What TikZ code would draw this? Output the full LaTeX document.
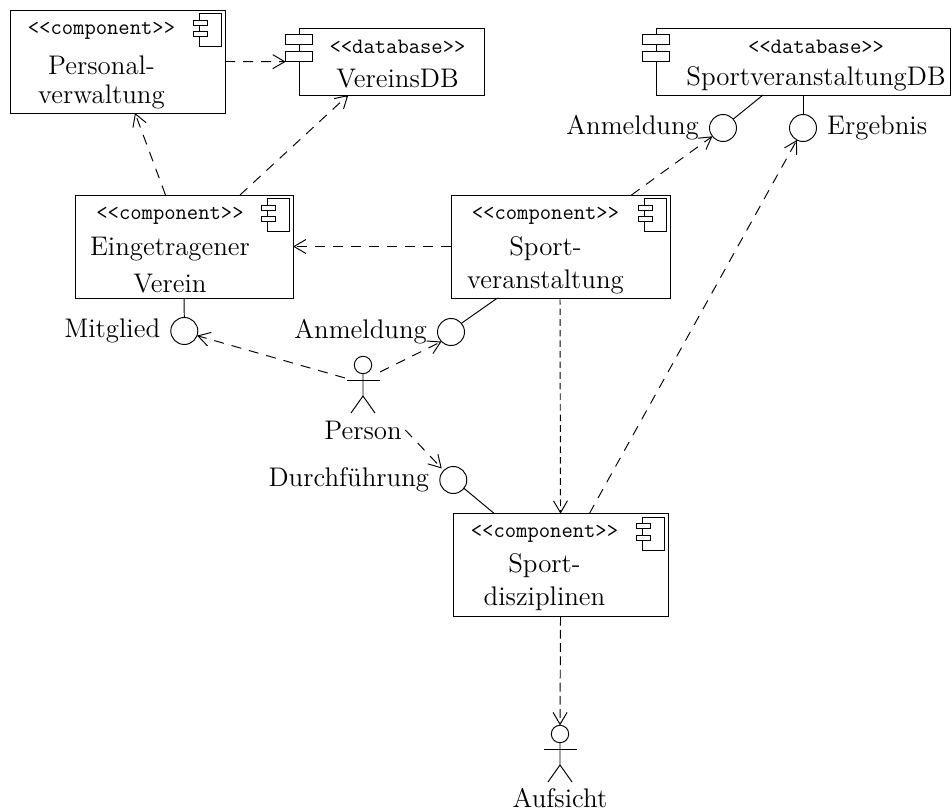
\documentclass[tikz,border=0pt]{standalone}
\usetikzlibrary{arrows.meta}

\newcommand{\stereo}[1]{{\fontsize{11}{12}\selectfont\ttfamily <{}<#1>{}>}}

\tikzset{
    every node/.style = {font=\fontsize{13.45}{15}\selectfont, outer sep=0pt},
    box/.style    = {draw, fill=white},
    compbox/.style = {box, minimum width=107.5pt, minimum height=51.5pt},
    dbbox/.style  = {box, minimum height=33.5pt},
    dbtab/.style  = {box, minimum width=13.3pt, minimum height=5pt, inner sep=0pt},
    boxtext/.style = {anchor=north, align=center, inner xsep=0pt, inner ysep=6pt},
    iface/.style  = {circle, draw, minimum size=13.5pt, inner sep=0pt},
    dep/.style    = {-{Straight Barb[length=6pt,width=7pt]}, dash pattern=on 5pt off 4pt},
    depv/.style   = {-{Straight Barb[length=6pt,width=7pt]}, dash pattern=on 3.3pt off 2pt},
    depw/.style   = {-{Straight Barb[length=6pt,width=7pt]}, dash pattern=on 4.4pt off 2.2pt},
    compicon/.pic = {
        \draw (-25.5,3.3) rectangle (-3.3,36.7);
        \draw[fill=white] (-32,10) rectangle (-18,15);
        \draw[fill=white] (-32,21.7) rectangle (-18,26.7);
    },
    actor/.pic = {
        \node (-head) [circle, draw, minimum size=8.7pt, inner sep=0pt] {};
        \draw (-head.south) -- (0,31) -- (-12,48);
        \draw (0,31) -- (12,48);
        \draw (-16.5,15.5) -- (16.5,15.5);
    },
}

\begin{document}
\begin{tikzpicture}[x=0.5pt, y=-0.5pt, line width=0.48pt, label distance=2pt]
\useasboundingbox (0,0) rectangle (952,812);
% components
\node (perso)  [compbox] at (117.5,61.5) {};
\node (verein) [compbox, minimum width=109pt] at (184,246.5) {};
\node (sport)  [compbox, minimum width=109.5pt] at (560.5,246.5) {};
\node (diszi)  [compbox] at (560.5,565.2) {};
\pic at (perso.north east)  {compicon};
\pic at (verein.north east) {compicon};
\pic at (sport.north east)  {compicon};
\pic at (diszi.north east)  {compicon};
\node (persotxt)  [boxtext] at ([xshift=-8pt] perso.north)  {\stereo{component}\\[5pt]Personal-\\[-0.5pt]verwaltung};
\node (vereintxt) [boxtext] at ([xshift=-7pt] verein.north) {\stereo{component}\\[3pt]Eingetragener\\[3.5pt]Verein};
\node (sporttxt)  [boxtext] at ([xshift=-7.5pt] sport.north)  {\stereo{component}\\[3pt]Sport-\\[1.5pt]veranstaltung};
\node (diszitxt)  [boxtext] at ([xshift=-8pt] diszi.north)  {\stereo{component}\\[2.5pt]Sport-\\[1.5pt]disziplinen};
% databases
\node (vdb) [dbbox, minimum width=92.5pt]  at (391.5,61.5) {};
\node (sdb) [dbbox, minimum width=147pt] at (803,61.5) {};
\node (vdbtaba) [dbtab] at ([yshift=-5.85pt] vdb.north west) {};
\node (vdbtabb) [dbtab] at ([yshift=-14.35pt] vdb.north west) {};
\node (sdbtaba) [dbtab] at ([yshift=-5.85pt] sdb.north west) {};
\node (sdbtabb) [dbtab] at ([yshift=-14.35pt] sdb.north west) {};
\node (vdbtxt) [boxtext] at ([xshift=3pt] vdb.north) {\stereo{database}\\[2pt]VereinsDB};
\node (sdbtxt) [boxtext] at ([xshift=6.5pt] sdb.north) {\stereo{database}\\[1pt]SportveranstaltungDB};
% interfaces
\node (mitglied) [iface, label=left:Mitglied]      at (184.3,331) {};
\node (anmeld)   [iface, label=left:Anmeldung]     at (451,332)   {};
\node (durch)    [iface, label=left:Durchführung]  at (453.3,480) {};
\node (anmdb)    [iface, label=left:Anmeldung]     at (723,128)   {};
\node (ergebnis) [iface, label=right:Ergebnis]     at (803,128)   {};
% actors
\pic (person)   at (363,365) {actor};
\pic (aufsicht) at (560,734) {actor};
\node (personlbl)   at (363,430) {Person};
\node (aufsichtlbl) at (560,798) {Aufsicht};
% dependencies
\draw[dep] (perso.east) -- (vdbtabb.south west);
\draw[dep] ([xshift=-9.25pt] verein.north) -- ([xshift=8.75pt] perso.south);
\draw[dep] ([xshift=28pt] verein.north) -- ([xshift=-21.6pt] vdb.south);
\draw[dep] (sport.west) -- (verein.east);
\draw[dep] ([xshift=35.5pt] sport.north) -- (anmdb.218);
\draw[depv] ([xshift=-0.25pt] sport.south) -- (diszi.north);
\draw[dep] ([xshift=14.4pt] diszi.north) -- (ergebnis.243);
\draw[depw] (diszi.south) -- (aufsicht-head.north);
\draw[dep] ([xshift=-9pt,yshift=-6.5pt] person-head.center) -- (mitglied.-20);
\draw[dep] ([xshift=8.5pt,yshift=-3.5pt] person-head.center) -- (anmeld.south west);
\draw[dep] ([xshift=-1.5pt] personlbl.east) -- ([xshift=-1pt,yshift=1pt] durch.north west);
% sockets
\draw (verein.south) -- (mitglied.north);
\draw ([xshift=-31.5pt] sport.south) -- (anmeld.40);
\draw ([xshift=-33pt] diszi.north) -- (durch.-38);
\draw ([xshift=-20pt] sdb.south) -- (anmdb.41);
\draw (sdb.south) -- (ergebnis.north);
\end{tikzpicture}
\end{document}
